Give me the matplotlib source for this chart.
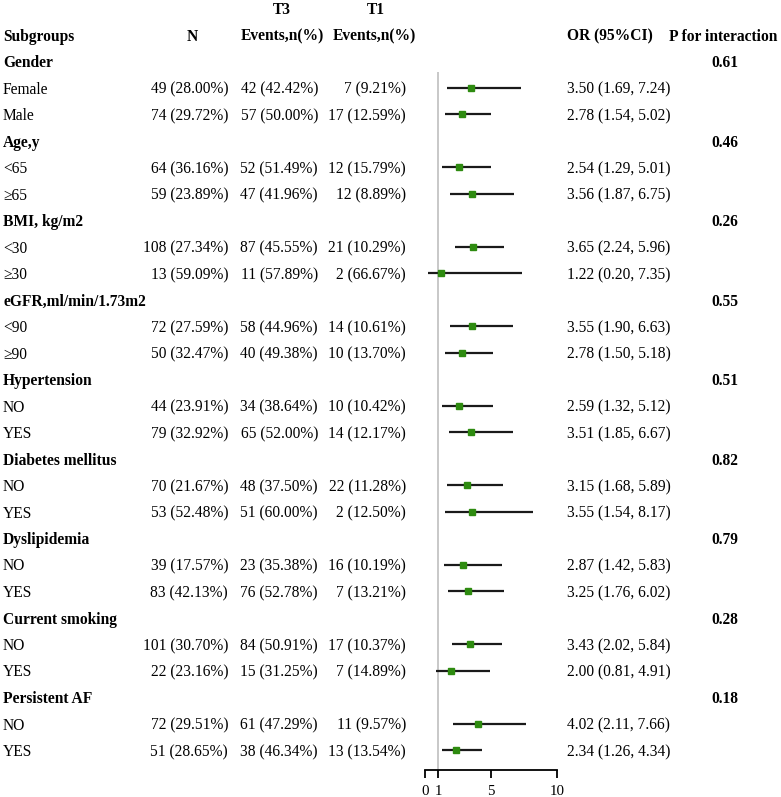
import matplotlib
matplotlib.use("Agg")
import matplotlib.pyplot as plt
import matplotlib.transforms as mtransforms

plt.rcParams['font.family'] = ['Liberation Serif', 'DejaVu Serif']

# Data
groups = ["Gender", "Age,y", "BMI, kg/m2", "eGFR,ml/min/1.73m2", "Hypertension",
          "Diabetes mellitus", "Dyslipidemia", "Current smoking", "Persistent AF"]
p_interaction = ["0.61", "0.46", "0.26", "0.55", "0.51", "0.82", "0.79", "0.28", "0.18"]
subgroups = [["Female", "Male"], ["<65", "≥65"], ["<30", "≥30"], ["<90", "≥90"],
             ["NO", "YES"], ["NO", "YES"], ["NO", "YES"], ["NO", "YES"], ["NO", "YES"]]
n_text = ["49 (28.00%)", "74 (29.72%)", "64 (36.16%)", "59 (23.89%)", "108 (27.34%)",
          "13 (59.09%)", "72 (27.59%)", "50 (32.47%)", "44 (23.91%)", "79 (32.92%)",
          "70 (21.67%)", "53 (52.48%)", "39 (17.57%)", "83 (42.13%)", "101 (30.70%)",
          "22 (23.16%)", "72 (29.51%)", "51 (28.65%)"]
t3_text = ["42 (42.42%)", "57 (50.00%)", "52 (51.49%)", "47 (41.96%)", "87 (45.55%)",
           "11 (57.89%)", "58 (44.96%)", "40 (49.38%)", "34 (38.64%)", "65 (52.00%)",
           "48 (37.50%)", "51 (60.00%)", "23 (35.38%)", "76 (52.78%)", "84 (50.91%)",
           "15 (31.25%)", "61 (47.29%)", "38 (46.34%)"]
t1_text = ["7 (9.21%)", "17 (12.59%)", "12 (15.79%)", "12 (8.89%)", "21 (10.29%)",
           "2 (66.67%)", "14 (10.61%)", "10 (13.70%)", "10 (10.42%)", "14 (12.17%)",
           "22 (11.28%)", "2 (12.50%)", "16 (10.19%)", "7 (13.21%)", "17 (10.37%)",
           "7 (14.89%)", "11 (9.57%)", "13 (13.54%)"]
or_val = [3.50, 2.78, 2.54, 3.56, 3.65, 1.22, 3.55, 2.78, 2.59, 3.51,
          3.15, 3.55, 2.87, 3.25, 3.43, 2.00, 4.02, 2.34]
ci_low = [1.69, 1.54, 1.29, 1.87, 2.24, 0.20, 1.90, 1.50, 1.32, 1.85,
          1.68, 1.54, 1.42, 1.76, 2.02, 0.81, 2.11, 1.26]
ci_high = [7.24, 5.02, 5.01, 6.75, 5.96, 7.35, 6.63, 5.18, 5.12, 6.67,
           5.89, 8.17, 5.83, 6.02, 5.84, 4.91, 7.66, 4.34]
x_ticks = [0, 1, 5, 10]

W, H = 781, 797
FS = 11.2


def fx(px):
    return px / W


fig = plt.figure(figsize=(W / 100, H / 100), dpi=100)

# forest panel: row i sits at pixel 61 + 26.5*i
row0, step = 61, 26.5
top_px, bot_px = 72, 770
ax = fig.add_axes([fx(425), 1 - bot_px / H, fx(132), (bot_px - top_px) / H])
ax.set_xlim(0, 10)
ax.set_ylim((bot_px - row0) / step, (top_px - row0) / step)

tr = mtransforms.blended_transform_factory(fig.transFigure, ax.transData)


def put(xpx, row, s, ha='left', bold=False):
    ax.text(fx(xpx), row, s, transform=tr, ha=ha, va='center_baseline', fontsize=FS,
            fontweight='bold' if bold else 'normal', clip_on=False)


# header
put(282, -2, "T3", ha='center', bold=True)
put(376, -2, "T1", ha='center', bold=True)
put(3, -1, "Subgroups", bold=True)
put(192, -1, "N", ha='center', bold=True)
put(282, -1, "Events,n(%)", ha='center', bold=True)
put(374, -1, "Events,n(%)", ha='center', bold=True)
put(610, -1, "OR (95%CI)", ha='center', bold=True)
put(723, -1, "P for interaction", ha='center', bold=True)

ax.axvline(1, color='#c4c4c4', lw=1.3, zorder=1)

row = 0
k = 0
for g, grp in enumerate(groups):
    put(3, row, grp, bold=True)
    put(725, row, p_interaction[g], ha='center', bold=True)
    row += 1
    for lab in subgroups[g]:
        put(3, row, lab)
        put(228, row, n_text[k], ha='right')
        put(318, row, t3_text[k], ha='right')
        put(406, row, t1_text[k], ha='right')
        put(567, row, f"{or_val[k]:.2f} ({ci_low[k]:.2f}, {ci_high[k]:.2f})")
        ax.plot([ci_low[k], ci_high[k]], [row, row], color='#1a1a1a', lw=1.6,
                solid_capstyle='butt', zorder=2)
        ax.plot(or_val[k], row, marker='s', ms=5, color='#2e8b10',
                mec='#2e8b10', zorder=3)
        row += 1
        k += 1

for s in ['top', 'left', 'right']:
    ax.spines[s].set_visible(False)
ax.spines['bottom'].set_bounds(0, 10)
ax.spines['bottom'].set_linewidth(1.3)
ax.set_yticks([])
ax.set_xticks(x_ticks)
ax.set_xticklabels([str(t) for t in x_ticks])
ax.tick_params(axis='x', direction='out', length=6, width=1.3, pad=5,
               labelsize=FS - 0.5)
ax.patch.set_alpha(0)

fig.savefig("out.png", dpi=100)
